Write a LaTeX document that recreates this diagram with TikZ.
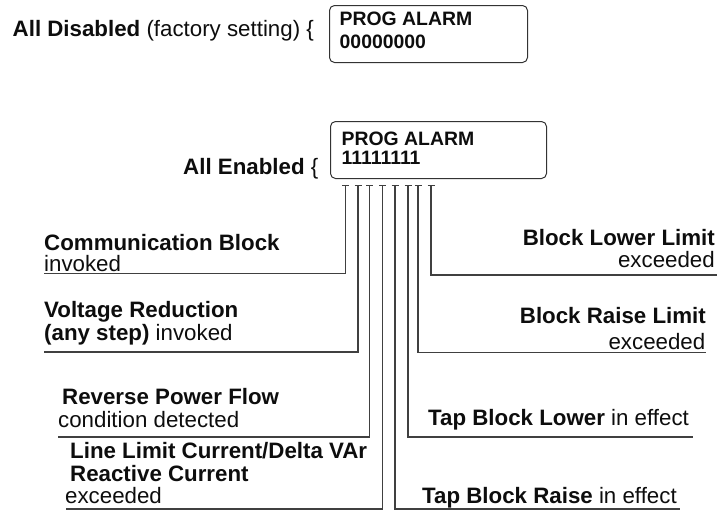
\documentclass[tikz,border=0pt]{standalone}
\usepackage{fontspec}
\setmainfont{Liberation Sans}
\begin{document}
\begin{tikzpicture}[x=1pt,y=-1pt,
  lbl/.style={inner sep=0pt, font=\fontsize{22.3}{24}\selectfont, text=black!95},
  blbl/.style={lbl, font=\fontsize{22.3}{24}\selectfont\bfseries},
  boxtxt/.style={inner sep=0pt, anchor=base west, font=\fontsize{19.4}{21}\selectfont\bfseries, text=black!95},
  alarmbox/.style={draw=black!80, rounded corners=5pt, line width=1pt, anchor=north west, inner sep=0pt},
  wire/.style={draw=black!75, line width=1.1pt},
  tickbar/.style={draw=black!75, line width=1pt},
]
\useasboundingbox (0,0) rectangle (718,512);

% --- All Disabled ---
\node[lbl, anchor=base west] (dis) at (12.5,36.7) {\textbf{All Disabled} (factory setting) \{};
\node[alarmbox, minimum width=198pt, minimum height=57pt] (box1) at (329,5) {};
\node[boxtxt] (b1a) at (339.5,25.5) {PROG ALARM};
\node[boxtxt] (b1b) at (339.5,48.5) {00000000};

% --- All Enabled ---
\node[lbl, anchor=base east] (en) at (318.5,174.5) {\textbf{All Enabled} \{};
\node[alarmbox, minimum width=216pt, minimum height=57pt] (box2) at (330,121) {};
\node[boxtxt] (b2a) at (341.5,145.5) {PROG ALARM};
\node[boxtxt] (b2b) at (341.5,164.5) {11111111};

% --- tick coordinates under box2 ---
\foreach \n/\x in {1/345.5,2/358,3/369.5,4/382.5,5/395,6/408,7/418,8/431}{
  \coordinate (t\n) at (\x,185);
  \draw[tickbar] ([xshift=-3.5pt]t\n) -- ([xshift=3.5pt]t\n);
}

% --- line ends ---
\coordinate (e1) at (44,273.5);
\coordinate (e2) at (44,352);
\coordinate (e3) at (58,437);
\coordinate (e4) at (66,509);
\coordinate (e5) at (680,509);
\coordinate (e6) at (693,437);
\coordinate (e7) at (706,352.5);
\coordinate (e8) at (717,275);

\foreach \n in {1,...,8}{
  \draw[wire] (t\n) |- (e\n);
}

% --- left labels ---
\node[blbl, anchor=base west] (c1) at (44,250) {Communication Block};
\node[lbl, anchor=base west] (c2) at (44,271.5) {invoked};
\node[blbl, anchor=base west] (v1) at (44,317.5) {Voltage Reduction};
\node[lbl, anchor=base west] (v2) at (44,340) {\textbf{(any step)} invoked};
\node[blbl, anchor=base west] (r1) at (62,404.5) {Reverse Power Flow};
\node[lbl, anchor=base west] (r2) at (58,427) {condition detected};
\node[blbl, anchor=base west] (l1) at (70,458.5) {Line Limit Current/Delta VAr};
\node[blbl, anchor=base west] (l2) at (70,481.5) {Reactive Current};
\node[lbl, anchor=base west] (l3) at (65,503.5) {exceeded};

% --- right labels ---
\node[blbl, anchor=base east] (bl1) at (715,245.5) {Block Lower Limit};
\node[lbl, anchor=base east] (bl2) at (715,267) {exceeded};
\node[blbl, anchor=base east] (br1) at (706,323.5) {Block Raise Limit};
\node[lbl, anchor=base east] (br2) at (705.5,349) {exceeded};
\node[lbl, anchor=base west] (tl) at (428,425) {\textbf{Tap Block Lower} in effect};
\node[lbl, anchor=base west] (tr) at (422,503) {\textbf{Tap Block Raise} in effect};
\end{tikzpicture}
\end{document}
